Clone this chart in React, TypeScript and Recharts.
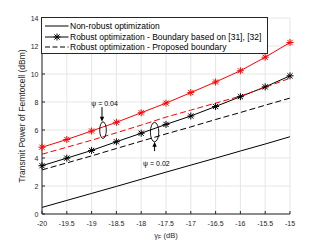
import React from "react";
import {
  LineChart,
  Line,
  XAxis,
  YAxis,
  CartesianGrid,
  Legend,
  ReferenceDot,
} from "recharts";

// gamma_F (dB)
const gammaF = [-20, -19.5, -19, -18.5, -18, -17.5, -17, -16.5, -16, -15.5, -15];
const xTicks = [-20, -19.5, -19, -18.5, -18, -17.5, -17, -16.5, -16, -15.5, -15];
const yTicks = [0, 2, 4, 6, 8, 10, 12, 14];

// transmit power of femtocell (dBm)
const nonRobust = [0.47, 0.97, 1.47, 1.97, 2.48, 2.99, 3.49, 3.99, 4.5, 5.0, 5.52];
const boundaryPsi004 = [4.77, 5.32, 5.93, 6.55, 7.23, 7.92, 8.67, 9.43, 10.23, 11.2, 12.25];
const proposedPsi004 = [4.27, 4.77, 5.27, 5.8, 6.35, 6.92, 7.42, 7.92, 8.42, 9.05, 9.7];
const boundaryPsi002 = [3.45, 3.99, 4.54, 5.16, 5.77, 6.4, 7.0, 7.68, 8.38, 9.08, 9.87];
const proposedPsi002 = [3.15, 3.65, 4.15, 4.68, 5.2, 5.72, 6.22, 6.75, 7.25, 7.77, 8.28];

const legendLabels = [
  "Non-robust optimization",
  "Robust optimization - Boundary based on [31], [32]",
  "Robust optimization - Proposed boundary",
];

const data = gammaF.map((g, i) => ({
  g,
  nonRobust: nonRobust[i],
  b04: boundaryPsi004[i],
  p04: proposedPsi004[i],
  b02: boundaryPsi002[i],
  p02: proposedPsi002[i],
}));

const FONT = "'Liberation Sans', Arial, Helvetica, sans-serif";
const AXIS = "#262626";
const DASH = "6 3";

function Star(props: any) {
  const { cx, cy, stroke, index } = props;
  if (cx == null || cy == null) return <g key={index} />;
  const r = 3.5;
  const d = 2.6;
  return (
    <g key={index} stroke={stroke} strokeWidth={1}>
      <line x1={cx - r} x2={cx + r} y1={cy} y2={cy} />
      <line x1={cx} x2={cx} y1={cy - r} y2={cy + r} />
      <line x1={cx - d} x2={cx + d} y1={cy - d} y2={cy + d} />
      <line x1={cx - d} x2={cx + d} y1={cy + d} y2={cy - d} />
    </g>
  );
}

const BottomTick = ({ x, y, payload }: any) => (
  <g>
    <line x1={x} x2={x} y1={y} y2={y - 3} stroke={AXIS} />
    <text x={x} y={y + 9} textAnchor="middle" dominantBaseline="central" fontSize={7} fill={AXIS} fontFamily={FONT}>
      {payload.value}
    </text>
  </g>
);

const LeftTick = ({ x, y, payload }: any) => (
  <g>
    <line x1={x} x2={x + 3} y1={y} y2={y} stroke={AXIS} />
    <text x={x - 3.5} y={y} textAnchor="end" dominantBaseline="central" fontSize={7} fill={AXIS} fontFamily={FONT}>
      {payload.value}
    </text>
  </g>
);

const TopTick = ({ x, y }: any) => <line x1={x} x2={x} y1={y} y2={y + 3} stroke={AXIS} />;
const RightTick = ({ x, y }: any) => <line x1={x} x2={x - 3} y1={y} y2={y} stroke={AXIS} />;

const XLabel = (props: any) => {
  const { x, y, width } = props.viewBox;
  return (
    <text x={x + width / 2} y={y + 21} textAnchor="middle" dominantBaseline="central" fontSize={7.5} fill={AXIS} fontFamily={FONT}>
      γ<tspan fontSize={5.5} dy={2}>F</tspan>
      <tspan dy={-2}> (dB)</tspan>
    </text>
  );
};

const YLabel = (props: any) => {
  const { y, height } = props.viewBox;
  const cx = 22;
  const cy = y + height / 2;
  return (
    <text
      x={cx}
      y={cy}
      transform={`rotate(-90 ${cx} ${cy})`}
      textAnchor="middle"
      dominantBaseline="central"
      fontSize={8.5}
      fill={AXIS}
      fontFamily={FONT}
    >
      Transmit Power of Femtocell (dBm)
    </text>
  );
};

const Arrow = ({ x, y1, y2 }: { x: number; y1: number; y2: number }) => {
  const dir = y2 > y1 ? 1 : -1;
  return (
    <g>
      <line x1={x} x2={x} y1={y1} y2={y2 - dir * 4} stroke="#000" strokeWidth={1} />
      <path d={`M${x - 2.2},${y2 - dir * 5} L${x + 2.2},${y2 - dir * 5} L${x},${y2} Z`} fill="#000" />
    </g>
  );
};

const Psi04 = ({ cx, cy }: any) => (
  <g>
    <ellipse cx={cx} cy={cy} rx={3.3} ry={8.3} fill="none" stroke="#000" strokeWidth={0.9} />
    <Arrow x={cx - 1} y1={cy - 23} y2={cy - 8.3} />
    <text x={cx + 1.5} y={cy - 26.5} textAnchor="middle" dominantBaseline="central" fontSize={7} fill="#000" fontFamily={FONT}>
      ψ = 0.04
    </text>
  </g>
);

const Psi02 = ({ cx, cy }: any) => (
  <g>
    <ellipse cx={cx} cy={cy} rx={4.2} ry={9.7} fill="none" stroke="#000" strokeWidth={0.9} />
    <Arrow x={cx} y1={cy + 19} y2={cy + 9.7} />
    <text x={cx + 1.8} y={cy + 31.3} textAnchor="middle" dominantBaseline="central" fontSize={7} fill="#000" fontFamily={FONT}>
      ψ = 0.02
    </text>
  </g>
);

const LegendBox = () => (
  <div
    style={{
      boxSizing: "border-box",
      width: 227,
      height: 37,
      border: `1px solid ${AXIS}`,
      background: "#fff",
      paddingTop: 2.6,
      fontFamily: FONT,
      fontSize: 8.5,
      color: "#000",
    }}
  >
    {legendLabels.map((label, i) => (
      <div key={label} style={{ display: "flex", alignItems: "center", height: 10.7, whiteSpace: "nowrap" }}>
        <svg width={27} height={10} style={{ flex: "none" }}>
          <line x1={3} x2={26.5} y1={5} y2={5} stroke="#000" strokeWidth={1} strokeDasharray={i === 2 ? "5 2.5" : undefined} />
          {i === 1 && <Star cx={15} cy={5} stroke="#000" />}
        </svg>
        <span style={{ marginLeft: 1 }}>{label}</span>
      </div>
    ))}
  </div>
);

export default function App() {
  return (
    <div style={{ position: "absolute", left: 0, top: 0 }}>
      <LineChart width={321} height={241} data={data} margin={{ top: 18, right: 31, bottom: 0, left: 0 }}>
        <CartesianGrid stroke="#e6e6e6" />
        <XAxis
          dataKey="g"
          type="number"
          domain={[-20, -15]}
          ticks={xTicks}
          interval={0}
          height={27}
          tickSize={0}
          tickMargin={0}
          tick={BottomTick}
          stroke={AXIS}
          label={XLabel}
        />
        <XAxis
          xAxisId="top"
          orientation="top"
          dataKey="g"
          type="number"
          domain={[-20, -15]}
          ticks={xTicks}
          interval={0}
          height={0}
          tickSize={0}
          tickMargin={0}
          tick={TopTick}
          stroke={AXIS}
        />
        <YAxis
          type="number"
          domain={[0, 14]}
          ticks={yTicks}
          interval={0}
          width={42}
          tickSize={0}
          tickMargin={0}
          tick={LeftTick}
          stroke={AXIS}
          label={YLabel}
        />
        <YAxis
          yAxisId="right"
          orientation="right"
          type="number"
          domain={[0, 14]}
          ticks={yTicks}
          interval={0}
          width={0}
          tickSize={0}
          tickMargin={0}
          tick={RightTick}
          stroke={AXIS}
        />
        <Line dataKey="nonRobust" stroke="#000" strokeWidth={1} dot={false} isAnimationActive={false} />
        <Line dataKey="p02" stroke="#000" strokeWidth={1} strokeDasharray={DASH} dot={false} isAnimationActive={false} />
        <Line dataKey="b02" stroke="#000" strokeWidth={1} dot={Star} isAnimationActive={false} />
        <Line dataKey="p04" stroke="#ff0000" strokeWidth={1} strokeDasharray={DASH} dot={false} isAnimationActive={false} />
        <Line dataKey="b04" stroke="#ff0000" strokeWidth={1} dot={Star} isAnimationActive={false} />
        <ReferenceDot x={-18.77} y={5.99} r={0} shape={Psi04} />
        <ReferenceDot x={-17.73} y={5.85} r={0} shape={Psi02} />
        <Legend
          layout="vertical"
          align="center"
          verticalAlign="middle"
          wrapperStyle={{ left: 41, top: 17, width: 227, height: 37 }}
          content={LegendBox}
        />
      </LineChart>
    </div>
  );
}
